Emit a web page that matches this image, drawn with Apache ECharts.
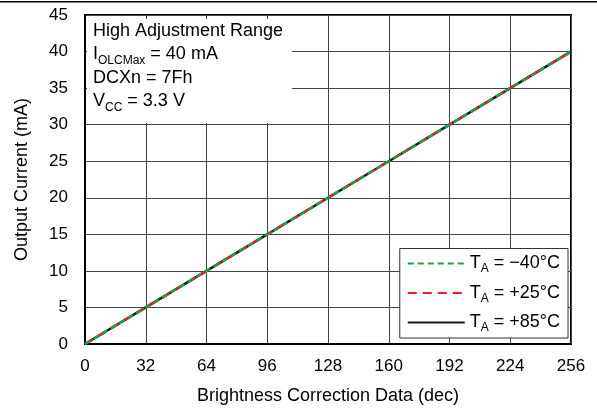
<!DOCTYPE html>
<html>
<head>
<meta charset="utf-8">
<script src="https://cdn.jsdelivr.net/npm/echarts@6/dist/echarts.min.js"></script>
<style>
  html, body { margin: 0; padding: 0; background: #fff; }
  #chart { width: 597px; height: 410px; }
</style>
</head>
<body>
<div id="chart"></div>
<script>
// data
var codes = [0, 32, 64, 96, 128, 160, 192, 224, 256];
var currentMinus40 = [0, 5, 10, 15, 20, 25, 30, 35, 40];
var currentPlus25 = [0, 5, 10, 15, 20, 25, 30, 35, 40];
var currentPlus85 = [0, 5, 10, 15, 20, 25, 30, 35, 40];
var xTicks = [0, 32, 64, 96, 128, 160, 192, 224, 256];
var yTicks = [0, 5, 10, 15, 20, 25, 30, 35, 40, 45];

function pairs(xs, ys) {
  return xs.map(function (x, i) { return [x, ys[i]]; });
}

var font = 'Liberation Sans, Arial, sans-serif';
var fs = 17;   // tick labels
var ft = 18;   // names, note, legend

var myChart = echarts.init(document.getElementById('chart'));
var option = {
  animation: false,
  backgroundColor: '#fff',
  grid: {
    left: 85, right: 26, top: 15, bottom: 66,
    show: true, borderColor: '#000', borderWidth: 2, backgroundColor: 'transparent'
  },
  xAxis: {
    type: 'value',
    min: xTicks[0], max: xTicks[xTicks.length - 1], interval: 32,
    name: 'Brightness Correction Data (dec)',
    nameLocation: 'middle',
    nameGap: 43,
    nameTextStyle: { fontSize: ft, fontFamily: font, color: '#000' },
    axisLine: { show: true, lineStyle: { color: '#000', width: 2 } },
    axisTick: { show: false },
    axisLabel: { fontSize: fs, fontFamily: font, color: '#000', margin: 14 },
    splitLine: { show: true, lineStyle: { color: '#444', width: 1 } }
  },
  yAxis: {
    type: 'value',
    min: yTicks[0], max: yTicks[yTicks.length - 1], interval: 5,
    name: 'Output Current (mA)',
    nameLocation: 'middle',
    nameGap: 54,
    nameTextStyle: { fontSize: ft, fontFamily: font, color: '#000' },
    axisLine: { show: true, lineStyle: { color: '#000', width: 2 } },
    axisTick: { show: false },
    axisLabel: { fontSize: fs, fontFamily: font, color: '#000', margin: 17 },
    splitLine: { show: true, lineStyle: { color: '#444', width: 1 } }
  },
  legend: {
    data: ['T_A = −40°C', 'T_A = +25°C', 'T_A = +85°C'],
    orient: 'vertical',
    right: 29,
    bottom: 72,
    backgroundColor: '#fff',
    borderColor: '#333',
    borderWidth: 1,
    borderRadius: 0,
    padding: [6, 8, 4, 7],
    itemGap: 9,
    itemWidth: 57,
    itemHeight: 19,
    itemStyle: { opacity: 0 },
    formatter: function (name) {
      return '{n|T}{s|A}{n|' + name.slice(3) + '}';
    },
    textStyle: {
      fontSize: ft, fontFamily: font, color: '#000',
      rich: {
        n: { fontSize: ft, fontFamily: font, color: '#000' },
        s: { fontSize: 12, fontFamily: font, color: '#000', verticalAlign: 'bottom', padding: [11, 0, 0, 0] }
      }
    }
  },
  graphic: [
    {
      type: 'rect',
      shape: { x: 0, y: 1, width: 597, height: 1.5 },
      style: { fill: '#000' },
      silent: true
    },
    {
      type: 'rect',
      shape: { x: 87, y: 19, width: 205, height: 104 },
      style: { fill: '#fff' },
      z: 1,
      silent: true
    },
    {
      type: 'text',
      left: 93,
      top: 22,
      z: 2,
      style: {
        text: '{n|High Adjustment Range}\n{n|I}{s|OLCMax}{n| = 40 mA}\n{n|DCXn = 7Fh}\n{n|V}{s|CC}{n| = 3.3 V}',
        rich: {
          n: { fontSize: ft, fontFamily: font, fill: '#000', lineHeight: 23.5 },
          s: { fontSize: 12, fontFamily: font, fill: '#000', lineHeight: 23.5, verticalAlign: 'bottom', padding: [11, 0, 0, 0] }
        }
      }
    }
  ],
  series: [
    {
      name: 'T_A = +85°C',
      type: 'line',
      data: pairs(codes, currentPlus85),
      showSymbol: false,
      symbol: 'none',
      z: 3,
      lineStyle: { color: '#1a1a1a', width: 2.5, type: 'solid' },
      itemStyle: { color: '#1a1a1a' }
    },
    {
      name: 'T_A = +25°C',
      type: 'line',
      data: pairs(codes, currentPlus25),
      showSymbol: false,
      symbol: 'none',
      z: 4,
      lineStyle: { color: '#ee1c25', width: 2.5, type: [9, 6] },
      itemStyle: { color: '#ee1c25' }
    },
    {
      name: 'T_A = −40°C',
      type: 'line',
      data: pairs(codes, currentMinus40),
      showSymbol: false,
      symbol: 'none',
      z: 5,
      lineStyle: { color: '#16a34a', width: 2.5, type: [6, 4] },
      itemStyle: { color: '#16a34a' }
    }
  ]
};
myChart.setOption(option);
</script>
</body>
</html>
